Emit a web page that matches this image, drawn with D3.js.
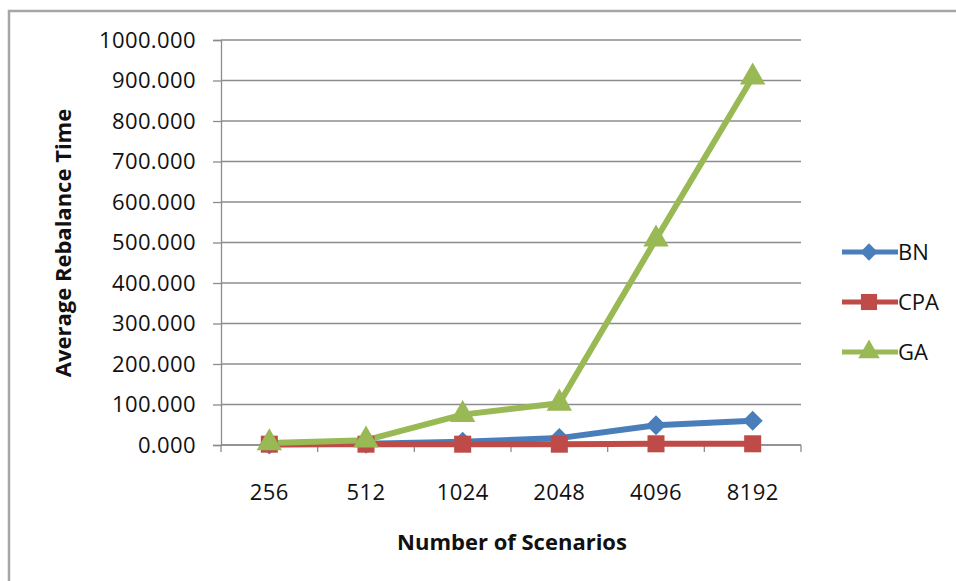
<!DOCTYPE html>
<html>
<head>
<meta charset="utf-8">
<script src="https://cdn.jsdelivr.net/npm/d3@7"></script>
<style>
  html, body { margin: 0; padding: 0; background: #fff; }
  svg { display: block; }
  text { font-family: "Open Sans", sans-serif; fill: #111; }
</style>
</head>
<body>
<svg id="chart" width="956" height="581"></svg>
<script>
// Scenario counts along the x axis
const scenarios = ["256", "512", "1024", "2048", "4096", "8192"];
// Average rebalance time per method
const bnValues  = [1, 3, 8, 17, 49, 60];
const cpaValues = [2, 2, 2, 2, 3, 3];
const gaValues  = [5, 12, 75, 103, 508, 908];
// Y axis ticks
const yTicks = [0, 100, 200, 300, 400, 500, 600, 700, 800, 900, 1000];

const seriesNames  = ["BN", "CPA", "GA"];
const seriesColors = ["#4a7ebb", "#be4b48", "#98b954"];
// marker: symbol type, rotation, plot size, legend size
const seriesMarkers = [
  { type: d3.symbolSquare,   rotate: 45, size: 200, legendSize: 150 },
  { type: d3.symbolSquare,   rotate: 0,  size: 290, legendSize: 260 },
  { type: d3.symbolTriangle, rotate: 0,  size: 280, legendSize: 200 }
];
const series = [bnValues, cpaValues, gaValues].map((v, i) => ({
  name: seriesNames[i], values: v, color: seriesColors[i], marker: seriesMarkers[i]
}));

const FONT = "'Open Sans', sans-serif";
const svg = d3.select("#chart");

// Outer chart frame
svg.append("path")
  .attr("d", "M9,581 V11 H956")
  .attr("fill", "none")
  .attr("stroke", "#a6a6a6")
  .attr("stroke-width", 2.5);

const plot = { left: 221, right: 801, top: 40, bottom: 445 };

const x = d3.scaleBand().domain(scenarios).range([plot.left, plot.right]);
const y = d3.scaleLinear().domain([0, 1000]).range([plot.bottom, plot.top]);

// Horizontal gridlines
svg.append("g").selectAll("line").data(yTicks).join("line")
  .attr("x1", plot.left).attr("x2", plot.right)
  .attr("y1", d => y(d)).attr("y2", d => y(d))
  .attr("stroke", "#8c8c8c").attr("stroke-width", 1.3);

// Y axis
const yAxis = svg.append("g")
  .attr("transform", `translate(${plot.left},0)`)
  .call(d3.axisLeft(y).tickValues(yTicks).tickFormat(d3.format(".3f")).tickSize(8).tickPadding(17));
yAxis.select(".domain").attr("stroke", "#8c8c8c").attr("stroke-width", 1.3);
yAxis.selectAll(".tick line").attr("stroke", "#8c8c8c").attr("stroke-width", 1.3);
yAxis.selectAll(".tick text")
  .style("font-family", FONT)
  .style("font-size", "22px")
  .style("letter-spacing", "0.4px")
  .attr("fill", "#111");

// X axis with tick marks at category boundaries
const xAxis = svg.append("g")
  .attr("transform", `translate(0,${plot.bottom})`);
xAxis.append("line")
  .attr("x1", plot.left).attr("x2", plot.right)
  .attr("stroke", "#8c8c8c").attr("stroke-width", 1.3);
const boundaries = scenarios.map(s => x(s)).concat([x(scenarios[scenarios.length - 1]) + x.bandwidth()]);
xAxis.selectAll("line.b").data(boundaries).join("line")
  .attr("class", "b")
  .attr("x1", d => d).attr("x2", d => d)
  .attr("y1", 0).attr("y2", 7)
  .attr("stroke", "#8c8c8c").attr("stroke-width", 1.3);
xAxis.selectAll("text").data(scenarios).join("text")
  .attr("x", d => x(d) + x.bandwidth() / 2)
  .attr("y", 55)
  .attr("text-anchor", "middle")
  .style("font-size", "22px")
  .style("letter-spacing", "0.4px")
  .text(d => d);

const cx = d => x(d) + x.bandwidth() / 2;
const line = d3.line().x((d, i) => cx(scenarios[i])).y(d => y(d));

// Series lines and markers
series.forEach(s => {
  svg.append("path")
    .datum(s.values)
    .attr("d", line)
    .attr("fill", "none")
    .attr("stroke", s.color)
    .attr("stroke-width", 6)
    .attr("stroke-linejoin", "round");
});
series.forEach(s => {
  svg.append("g").selectAll("path").data(s.values).join("path")
    .attr("transform", (d, i) => `translate(${cx(scenarios[i])},${y(d)}) rotate(${s.marker.rotate})`)
    .attr("d", d3.symbol().type(s.marker.type).size(s.marker.size))
    .attr("fill", s.color);
});

// Legend
const legend = svg.append("g");
series.forEach((s, i) => {
  const ly = 252 + i * 50;
  legend.append("line")
    .attr("x1", 842).attr("x2", 898).attr("y1", ly).attr("y2", ly)
    .attr("stroke", s.color).attr("stroke-width", 5);
  legend.append("path")
    .attr("transform", `translate(869,${ly}) rotate(${s.marker.rotate})`)
    .attr("d", d3.symbol().type(s.marker.type).size(s.marker.legendSize))
    .attr("fill", s.color);
  legend.append("text")
    .attr("x", 898).attr("y", ly + 8)
    .style("font-size", "22px")
    .text(s.name);
});

// Axis titles
svg.append("text")
  .attr("transform", `translate(71,243) rotate(-90)`)
  .attr("text-anchor", "middle")
  .style("font-size", "22px").style("font-weight", "bold")
  .text("Average Rebalance Time");
svg.append("text")
  .attr("x", 512).attr("y", 550)
  .attr("text-anchor", "middle")
  .style("font-size", "22px").style("font-weight", "bold")
  .text("Number of Scenarios");
</script>
</body>
</html>
